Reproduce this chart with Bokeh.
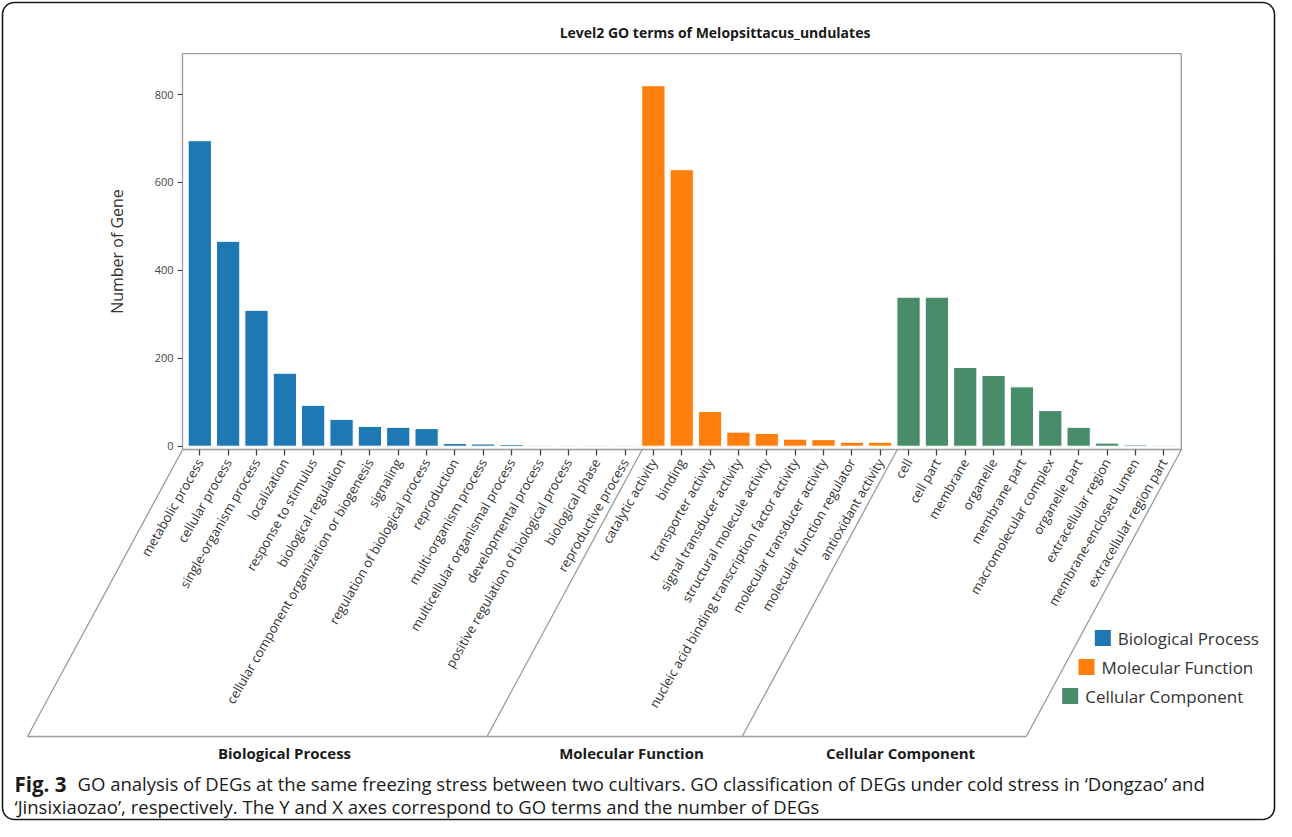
import math
from bokeh.plotting import figure
from bokeh.models import Range1d, LinearAxis, FixedTicker
from bokeh.core.properties import value
from bokeh.embed import file_html
from bokeh.resources import INLINE

# ---------------- data ----------------
TITLE = "Level2 GO terms of Melopsittacus_undulates"
Y_LABEL = "Number of Gene"
GROUPS = ["Biological Process", "Molecular Function", "Cellular Component"]
GROUP_COLORS = ["#1f77b4", "#ff7f0e", "#488c6a"]

bp_terms = ["metabolic process", "cellular process", "single-organism process",
            "localization", "response to stimulus", "biological regulation",
            "cellular component organization or biogenesis", "signaling",
            "regulation of biological process", "reproduction",
            "multi-organism process", "multicellular organismal process",
            "developmental process", "positive regulation of biological process",
            "biological phase", "reproductive process"]
bp_counts = [695, 466, 309, 166, 93, 61, 45, 43, 40, 6, 5, 4, 2, 1, 1, 1]

mf_terms = ["catalytic activity", "binding", "transporter activity",
            "signal transducer activity", "structural molecule activity",
            "nucleic acid binding transcription factor activity",
            "molecular transducer activity", "molecular function regulator",
            "antioxidant activity"]
mf_counts = [820, 629, 79, 32, 29, 16, 15, 9, 9]

cc_terms = ["cell", "cell part", "membrane", "organelle", "membrane part",
            "macromolecular complex", "organelle part", "extracellular region",
            "membrane-enclosed lumen", "extracellular region part"]
cc_counts = [339, 339, 179, 161, 135, 81, 43, 7, 3, 2]

y_ticks = [0, 200, 400, 600, 800]

CAPTION_BOLD = "Fig. 3"
CAPTION_LINE1 = ("GO analysis of DEGs at the same freezing stress between two cultivars. "
                 "GO classification of DEGs under cold stress in \u2018Dongzao\u2019 and")
CAPTION_LINE2 = ("\u2018Jinsixiaozao\u2019, respectively. The Y and X axes correspond to GO terms "
                 "and the number of DEGs")

# ---------------- layout ----------------
W, H = 1276, 821
OFF = 0
BAR0_PX = 199.3
BAR_STEP = 28.35
ZERO_PX = 445.7
UNIT_PX = 0.4396
FONT = "Open Sans"


def X(px):
    return (px - BAR0_PX) / BAR_STEP


def Y(py):
    return (ZERO_PX - py) / UNIT_PX


def PX(x):
    return BAR0_PX + x * BAR_STEP


all_terms = bp_terms + mf_terms + cc_terms
n = len(all_terms)
LEFT = -0.61
RIGHT = n - 1 + 0.62
TOP = 893
BASE = -8

p = figure(width=W, height=H, output_backend="svg", toolbar_location=None,
           x_axis_type=None, y_axis_type=None,
           x_range=Range1d(X(OFF), X(OFF + W)), y_range=Range1d(Y(OFF + H), Y(OFF)),
           min_border=0, min_border_left=0, min_border_right=0,
           min_border_top=0, min_border_bottom=0)
p.outline_line_color = None
p.background_fill_color = "white"
p.border_fill_color = "white"

# outer rounded border
try:
    p.quad(left=X(2), right=X(W - 2), top=Y(2), bottom=Y(H - 2), fill_color=None,
           line_color="#1a1a1a", line_width=1.6, border_radius=12)
except Exception:
    p.quad(left=X(2), right=X(W - 2), top=Y(2), bottom=Y(H - 2), fill_color=None,
           line_color="#1a1a1a", line_width=1.6)

# bars
offset = 0
starts = []
for terms, counts, color in zip([bp_terms, mf_terms, cc_terms],
                                [bp_counts, mf_counts, cc_counts], GROUP_COLORS):
    xs = [offset + i for i in range(len(terms))]
    p.vbar(x=xs, top=counts, bottom=0, width=0.82, fill_color=color,
           line_color="white", line_width=1)
    starts.append(offset)
    offset += len(terms)

# frame top / right
p.line(x=[LEFT, RIGHT, RIGHT], y=[TOP, TOP, BASE], line_color="#9a9a9a", line_width=1.3)

# axes
xaxis = LinearAxis(fixed_location=BASE, bounds=(LEFT, RIGHT),
                   ticker=FixedTicker(ticks=list(range(n))),
                   major_label_overrides={i: t for i, t in enumerate(all_terms)},
                   major_label_orientation=math.radians(60))
xaxis.axis_line_color = "#9a9a9a"
xaxis.axis_line_width = 1.3
xaxis.major_tick_line_color = "#444444"
xaxis.major_tick_line_width = 1.3
xaxis.major_tick_out = 6
xaxis.major_tick_in = 0
xaxis.minor_tick_line_color = None
xaxis.major_label_text_font = FONT
xaxis.major_label_text_font_size = "13px"
xaxis.major_label_text_color = "#333333"
xaxis.major_label_standoff = 4
p.add_layout(xaxis, "below")

yaxis = LinearAxis(fixed_location=LEFT, bounds=(BASE, TOP),
                   ticker=FixedTicker(ticks=y_ticks), axis_label=Y_LABEL)
yaxis.axis_line_color = "#9a9a9a"
yaxis.axis_line_width = 1.3
yaxis.major_tick_line_color = "#444444"
yaxis.major_tick_out = 5
yaxis.major_tick_in = 0
yaxis.minor_tick_line_color = None
yaxis.major_label_text_font = FONT
yaxis.major_label_text_font_size = "11px"
yaxis.major_label_text_color = "#444444"
yaxis.major_label_standoff = 4
yaxis.axis_label_text_font = FONT
yaxis.axis_label_text_font_size = "16px"
yaxis.axis_label_text_font_style = "normal"
yaxis.axis_label_text_color = "#333333"
yaxis.axis_label_standoff = 24
p.add_layout(yaxis, "left")

# group brackets (parallelograms)
BOT_PX = 736
SLANT_PX = 155
tops = [LEFT] + [s - 0.4 for s in starts[1:]] + [RIGHT]
for t in tops:
    tp = PX(t)
    p.line(x=[t, X(tp - SLANT_PX)], y=[BASE, Y(BOT_PX)], line_color="#9a9a9a", line_width=1.3)
p.line(x=[X(PX(LEFT) - SLANT_PX), X(PX(RIGHT) - SLANT_PX)], y=[Y(BOT_PX), Y(BOT_PX)],
       line_color="#9a9a9a", line_width=1.3)

# group names
GROUP_LABEL_PX = [284, 631, 900]
p.text(x=[X(v) for v in GROUP_LABEL_PX], y=[Y(752)] * 3, text=GROUPS,
       text_font=value(FONT), text_font_style="bold", text_font_size="15px",
       text_color="#1a1a1a", text_align="center", text_baseline="middle")

# title
p.text(x=[X(714.5)], y=[Y(32)], text=[TITLE], text_font=value(FONT),
       text_font_style="bold", text_font_size="14px", text_color="#1a1a1a",
       text_align="center", text_baseline="middle")

# legend (follows the slant)
lx_sq = [1102.3 - 16.3 * k for k in range(3)]
ly = [637.5 + 29 * k for k in range(3)]
p.scatter(x=[X(v) for v in lx_sq], y=[Y(v) for v in ly], marker="square", size=16,
          fill_color=GROUP_COLORS, line_color=None)
p.text(x=[X(v + 15) for v in lx_sq], y=[Y(v) for v in ly], text=GROUPS,
       text_font=value(FONT), text_font_size="17px", text_color="#333333",
       text_align="left", text_baseline="middle")

# caption
CAP1_PX, CAP2_PX = 783, 806
p.text(x=[X(14)], y=[Y(CAP1_PX)], text=[CAPTION_BOLD], text_font=value(FONT),
       text_font_style="bold", text_font_size="20.5px", text_color="#1a1a1a",
       text_align="left", text_baseline="middle")
p.text(x=[X(77), X(14)], y=[Y(CAP1_PX), Y(CAP2_PX)], text=[CAPTION_LINE1, CAPTION_LINE2],
       text_font=value(FONT), text_font_size="18.5px", text_color="#1a1a1a",
       text_align="left", text_baseline="middle")

open("out.html", "w").write(file_html(p, INLINE))
